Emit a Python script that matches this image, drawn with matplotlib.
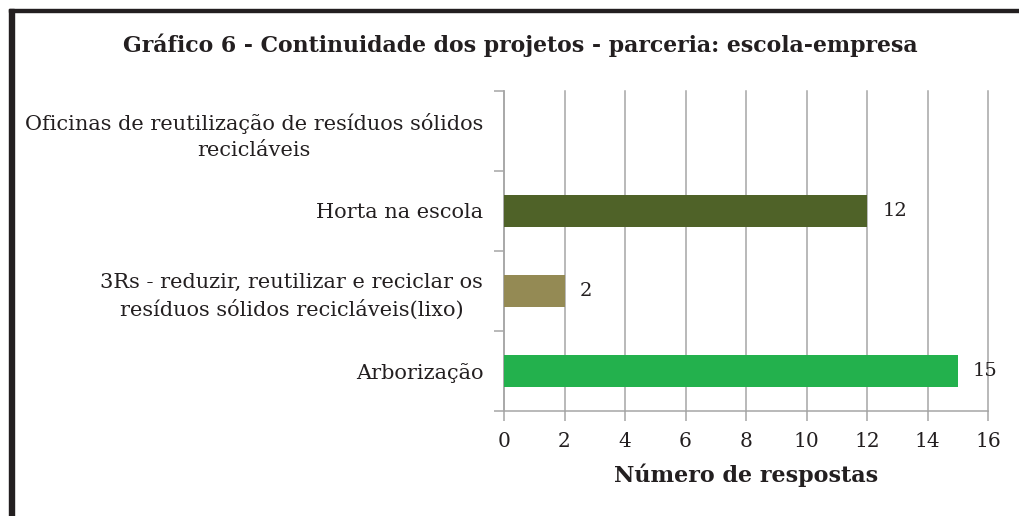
import matplotlib.pyplot as plt
from matplotlib.patches import Rectangle

# dados do gráfico (de cima para baixo)
categorias = ["Oficinas de reutilização de resíduos sólidos\nrecicláveis",
              "Horta na escola",
              "3Rs - reduzir, reutilizar e reciclar os\nresíduos sólidos recicláveis(lixo)",
              "Arborização"]
respostas = [0, 12, 2, 15]
cores = ["#4F6228", "#4F6228", "#948A54", "#23B14D"]
xticks = [0, 2, 4, 6, 8, 10, 12, 14, 16]

plt.rcParams['font.family'] = ['DejaVu Serif']
texto = "#231F20"
cinza = "#A6A6A6"

W, H = 1019, 516
fig = plt.figure(figsize=(W / 100, H / 100), dpi=100)
ax = fig.add_axes([504 / W, 1 - 411 / H, (988 - 504) / W, (411 - 91) / H])

# moldura
fig.patches.append(Rectangle((9 / W, 0), 5 / W, 1 - 9 / H, transform=fig.transFigure,
                             color="#231F20", zorder=10))
fig.patches.append(Rectangle((9 / W, 1 - 12 / H), 1 - 9 / W, 3 / H, transform=fig.transFigure,
                             color="#231F20", zorder=10))

n = len(categorias)
pos = [n - 1 - i for i in range(n)]
ax.barh(pos, respostas, height=0.4, color=cores, zorder=3)
for p, v in zip(pos, respostas):
    if v > 0:
        ax.text(v + 0.5, p, str(v), va="center", ha="left", fontsize=14, color=texto)

ax.set_xlim(0, 16)
ax.set_ylim(-0.5, n - 0.5)
ax.set_xticks(xticks)
ax.set_xticklabels([str(t) for t in xticks], fontsize=14.5, color=texto)
ax.tick_params(axis="x", length=7, width=1.1, color=cinza, pad=8)

ax.set_yticks([i - 0.5 for i in range(n + 1)])
ax.set_yticklabels([])
ax.set_yticks(pos, minor=True)
ax.set_yticklabels(categorias, minor=True, fontsize=15, color=texto, ha="right",
                   multialignment="center", linespacing=1.45)
ax.tick_params(axis="y", which="major", length=7, width=1.1, color=cinza)
ax.tick_params(axis="y", which="minor", length=0, pad=15)

ax.grid(axis="x", color=cinza, linewidth=1.1, zorder=0)
for gl in ax.get_xgridlines():
    gl.set_clip_on(False)
for s in ["top", "right"]:
    ax.spines[s].set_visible(False)
for s in ["left", "bottom"]:
    ax.spines[s].set_color(cinza)
    ax.spines[s].set_linewidth(1.1)

ax.set_xlabel("Número de respostas", fontsize=16, fontweight="bold", color=texto, labelpad=9)
fig.text(520 / W, 1 - 45 / H, "Gráfico 6 - Continuidade dos projetos - parceria: escola-empresa",
         ha="center", va="center", fontsize=15.8, fontweight="bold", color=texto)

fig.savefig("out.png", dpi=100)
